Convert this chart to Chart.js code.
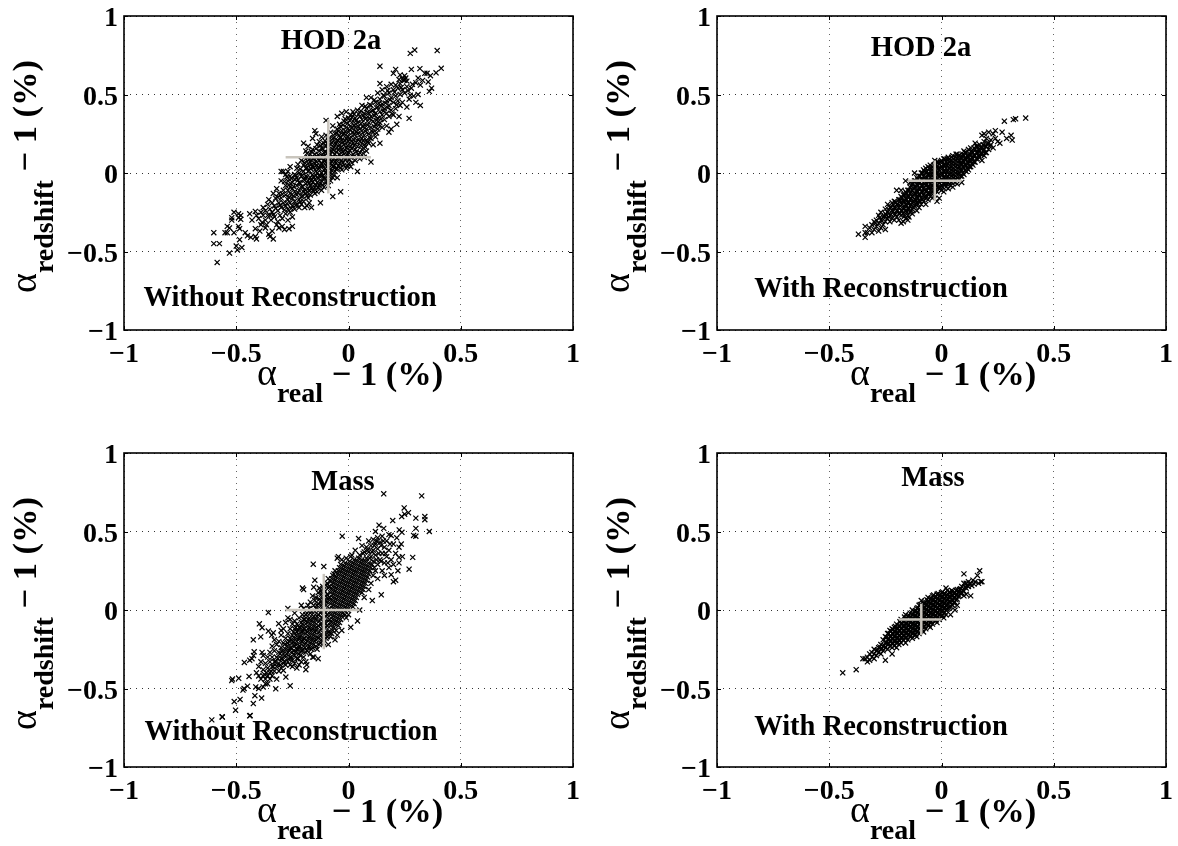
<!DOCTYPE html>
<html>
<head>
<meta charset="utf-8">
<script src="https://cdn.jsdelivr.net/npm/chart.js@4"></script>
<style>
html, body { margin: 0; padding: 0; background: #fff; overflow: hidden; }
body { width: 1178px; height: 846px; position: relative; font-family: "Liberation Serif", serif; color: #000; }
.panel { position: absolute; width: 588px; height: 420px; }
.panel canvas { position: absolute; left: 0; top: 0; }
.note { position: absolute; font-weight: bold; font-size: 28.5px; line-height: 1; white-space: nowrap; transform: translate(-50%, -50%); }
.axis-title { position: absolute; white-space: nowrap; font-weight: bold; font-size: 34.5px; line-height: 40px; height: 40px; }
.axis-title .alpha { font-weight: normal; font-size: 38px; }
.axis-title .sub { font-size: 28px; position: relative; top: 17px; }
.axis-title.x { left: 257px; top: 352px; }
.axis-title.y { left: 3px; top: 293px; transform-origin: 0 0; transform: rotate(-90deg); }
</style>
</head>
<body>
<script>
const tickValues = [-1, -0.5, 0, 0.5, 1];
const tickLabels = ['\u22121', '\u22120.5', '0', '0.5', '1'];

// [alpha_real - 1, alpha_redshift - 1] in %
const hodNoRecon = [
[-.60,-.38],[-.60,-.45],[-.575,-.45],[-.585,-.57],[-.53,-.51],[-.55,-.38],[-.54,-.38],[-.51,-.38],[-.54,-.34],[-.53,-.35],[-.52,-.30],[-.51,-.25],[-.49,-.26],[-.48,-.27],[-.52,-.285],[-.49,-.285],[-.48,-.295],[-.49,-.34],[-.485,-.355],[-.485,-.425],[-.50,-.465],[-.495,-.49],[-.475,-.475],[-.46,-.38],[-.45,-.40],[-.435,-.41],[-.415,-.405],[-.41,-.42],[-.395,-.37],[-.415,-.355],[-.43,-.30],[-.44,-.26],[-.415,-.245],[-.385,-.315],[-.39,-.33],[-.365,-.33],[-.37,-.35],[-.34,-.37],[-.355,-.39],[-.35,-.405],[-.335,-.42],[-.31,-.35],[-.265,-.355],[-.25,-.34],[-.315,-.31],[-.38,-.27],[-.35,-.27],
[-.40,-.29],[-.41,-.27],[-.39,-.25],[-.38,-.22],[-.37,-.30],[-.37,-.24],[-.36,-.20],[-.36,-.27],[-.355,-.17],[-.35,-.23],[-.345,-.30],[-.34,-.19],[-.34,-.25],[-.335,-.13],[-.33,-.21],[-.33,-.28],[-.325,-.16],[-.32,-.33],[-.32,-.10],[-.315,-.24],[-.31,-.19],[-.31,-.13],[-.305,-.27],[-.30,-.05],[-.30,-.16],[-.30,-.22],[-.295,-.29],[-.295,-.34],[-.29,-.11],[-.29,-.19],[-.285,-.36],[-.30,.01],[-.29,.01],
[-.28,-.01],[-.28,-.08],[-.28,-.14],[-.28,-.21],[-.28,-.26],[-.27,.01],[-.27,-.05],[-.27,-.11],[-.27,-.17],[-.27,-.23],[-.27,-.30],[-.26,.04],[-.26,-.02],[-.26,-.09],[-.26,-.13],[-.26,-.19],[-.26,-.25],[-.25,-.06],[-.25,-.10],[-.25,-.16],[-.25,-.21],[-.25,-.28],[-.24,-.01],[-.24,-.04],[-.24,-.12],[-.24,-.18],[-.24,-.23],[-.23,.03],[-.23,-.03],[-.23,-.08],[-.23,-.14],[-.23,-.20],[-.22,.0],[-.22,-.06],[-.22,-.11],[-.22,-.17],[-.22,-.22],[-.21,.08],[-.21,-.02],[-.21,-.09],[-.21,-.15],[-.21,-.20],[-.20,.19],[-.20,.05],[-.20,.01],[-.20,-.04],[-.20,-.12],[-.20,-.18],[-.195,-.22],
[-.19,.14],[-.19,.09],[-.19,.03],[-.19,-.02],[-.19,-.07],[-.19,-.13],[-.185,-.21],[-.18,.17],[-.18,.10],[-.18,.06],[-.18,.01],[-.18,-.05],[-.18,-.10],[-.18,-.16],[-.175,-.19],[-.17,.12],[-.17,.07],[-.17,.03],[-.17,-.03],[-.17,-.08],[-.17,-.14],[-.165,-.22],[-.16,.22],[-.16,.15],[-.16,.09],[-.16,.04],[-.16,-.01],[-.16,-.06],[-.16,-.11],[-.15,.27],[-.15,.12],[-.15,.06],[-.15,.02],[-.15,-.04],[-.15,-.09],[-.15,-.13],[-.145,.25],[-.14,.18],[-.14,.10],[-.14,.05],[-.14,.0],[-.14,-.06],[-.14,-.12],[-.13,.20],[-.13,.14],[-.13,.08],[-.13,.03],[-.13,-.02],[-.13,-.08],[-.125,-.19],[-.12,.23],[-.12,.16],[-.12,.11],[-.12,.06],[-.12,.0],[-.12,-.05],[-.12,-.11],
[-.11,.19],[-.11,.13],[-.11,.08],[-.11,.02],[-.11,-.03],[-.11,-.09],[-.10,.335],[-.10,.24],[-.10,.17],[-.10,.10],[-.10,.05],[-.10,.0],[-.10,-.06],[-.09,.21],[-.09,.15],[-.09,.09],[-.09,.03],[-.09,-.02],[-.09,-.08],[-.08,.26],[-.08,.18],[-.08,.12],[-.08,.06],[-.08,.0],[-.08,-.05],[-.07,.30],[-.07,.22],[-.07,.15],[-.07,.10],[-.07,.04],[-.07,-.03],[-.07,-.15],[-.06,.25],[-.06,.19],[-.06,.12],[-.06,.07],[-.06,.01],[-.05,.36],[-.05,.28],[-.05,.21],[-.05,.16],[-.05,.09],[-.05,.03],[-.05,-.03],[-.04,.31],[-.04,.24],[-.04,.18],[-.04,.12],[-.04,.06],[-.035,-.12],[-.03,.38],[-.03,.27],[-.03,.21],[-.03,.15],[-.03,.08],[-.03,.02],[-.02,.33],[-.02,.25],[-.02,.18],[-.02,.12],[-.02,.05],[-.01,.39],[-.01,.29],[-.01,.22],[-.01,.16],[-.01,.09],[-.01,.03],
[.0,.35],[.0,.26],[.0,.20],[.0,.13],[.0,.06],[.01,.37],[.01,.30],[.01,.23],[.01,.17],[.01,.10],[.01,.04],[.02,.39],[.02,.33],[.02,.26],[.02,.19],[.02,.12],[.03,.35],[.03,.29],[.03,.22],[.03,.15],[.03,.08],[.04,.40],[.04,.32],[.04,.25],[.04,.17],[.04,.01],[.05,.36],[.05,.28],[.05,.20],[.05,.13],[.05,.09],[.06,.43],[.06,.34],[.06,.27],[.06,.22],[.06,.15],[.07,.38],[.07,.31],[.07,.24],[.07,.18],[.07,.10],[.08,.48],[.08,.41],[.08,.35],[.08,.28],[.08,.21],[.08,.14],[.09,.38],[.09,.32],[.09,.25],[.09,.19],[.10,.48],[.10,.43],[.10,.36],[.10,.29],[.10,.22],[.10,.07],[.11,.40],[.11,.33],[.11,.26],[.11,.18],[.12,.45],[.12,.38],[.12,.31],[.12,.23],[.13,.51],[.13,.42],[.13,.35],[.13,.28],[.14,.68],[.14,.57],[.14,.47],[.14,.39],[.14,.32],[.14,.19],[.15,.53],[.15,.44],[.15,.37],[.15,.29],[.16,.49],[.16,.41],[.16,.34],[.17,.55],[.17,.46],[.17,.38],[.17,.30],[.18,.51],[.18,.43],[.18,.36],[.18,.26],[.19,.565],[.19,.48],[.19,.40],[.19,.28],
[.20,.635],[.20,.53],[.20,.45],[.20,.37],[.21,.66],[.21,.56],[.21,.49],[.21,.41],[.215,.31],[.22,.54],[.22,.46],[.225,.36],[.23,.625],[.23,.57],[.23,.50],[.23,.43],[.24,.60],[.24,.53],[.24,.45],[.25,.62],[.25,.59],[.25,.51],[.26,.585],[.26,.55],[.26,.42],[.27,.348],[.27,.47],[.275,.762],[.28,.66],[.28,.54],[.285,.565],[.29,.49],[.295,.783],[.30,.575],[.30,.45],[.31,.605],[.31,.50],[.318,.665],[.32,.56],[.32,.43],[.33,.59],[.34,.635],[.35,.635],[.355,.58],[.36,.52],[.365,.62],[.37,.54],[.39,.638],[.395,.78],[.413,.667],
[-.335,-.265],[-.325,-.225],[-.315,-.155],[-.305,-.205],[-.295,-.135],[-.285,-.235],[-.285,-.055],[-.275,-.195],[-.275,-.025],[-.265,-.155],[-.265,-.075],[-.255,-.225],[-.255,-.035],[-.245,-.145],[-.245,-.085],[-.235,-.205],[-.235,-.015],[-.225,-.125],[-.225,-.045],[-.225,.055],[-.215,-.185],[-.215,-.065],[-.215,.025],[-.205,-.145],[-.205,-.085],[-.205,-.015],[-.195,-.105],[-.195,-.045],[-.195,.065],[-.185,-.145],[-.185,-.025],[-.185,.035],[-.185,.125],[-.175,-.115],[-.175,-.065],[-.175,.015],[-.175,.085],[-.165,-.095],[-.165,-.045],[-.165,.055],[-.165,.135],[-.155,-.115],[-.155,-.025],[-.155,.035],[-.155,.095],[-.145,-.075],[-.145,-.015],[-.145,.075],[-.145,.155],[-.135,-.095],[-.135,-.035],[-.135,.025],[-.135,.115],[-.125,-.065],[-.125,-.015],[-.125,.045],[-.125,.095],[-.125,.175],[-.115,-.075],[-.115,-.015],[-.115,.045],[-.115,.105],[-.115,.155],[-.105,-.035],[-.105,.025],[-.105,.075],[-.105,.135],[-.105,.205],[-.095,-.055],[-.095,.015],[-.095,.065],[-.095,.125],[-.095,.185],[-.085,-.025],[-.085,.035],[-.085,.085],[-.085,.145],[-.085,.225],[-.075,.015],[-.075,.075],[-.075,.135],[-.075,.195],[-.065,-.015],[-.065,.045],[-.065,.095],[-.065,.165],[-.065,.225],[-.055,.025],[-.055,.065],[-.055,.135],[-.055,.185],[-.055,.255],[-.045,.045],[-.045,.095],[-.045,.145],[-.045,.205],[-.045,.265],[-.035,.035],[-.035,.105],[-.035,.165],[-.035,.225],[-.035,.295],[-.025,.065],[-.025,.135],[-.025,.195],[-.025,.245],[-.025,.305],[-.015,.085],[-.015,.145],[-.015,.205],[-.015,.265],[-.015,.345],[-.005,.045],[-.005,.115],[-.005,.175],[-.005,.235],[-.005,.315],[.005,.085],[.005,.145],[.005,.215],[.005,.275],[.005,.335],[.015,.065],[.015,.155],[.015,.205],[.015,.285],[.015,.355],[.025,.105],[.025,.175],[.025,.245],[.025,.305],[.025,.375],[.035,.135],[.035,.195],[.035,.265],[.035,.335],[.045,.115],[.045,.215],[.045,.295],[.045,.375],[.055,.175],[.055,.245],[.055,.315],[.055,.395],[.065,.125],[.065,.205],[.065,.295],[.065,.365],[.075,.165],[.075,.265],[.075,.345],[.075,.425],[.085,.195],[.085,.305],[.085,.385],[.095,.225],[.095,.345],[.095,.435],[.105,.265],[.105,.395],[.115,.295],[.115,.365],[.115,.465],[.125,.255],[.125,.335],[.125,.415],[.135,.305],[.135,.445],[.145,.345],[.145,.425],[.155,.495],[.155,.395],[.165,.445],[.175,.415],[.175,.525],[.185,.465],[.195,.375],[.205,.515],[.215,.435],[.225,.595],[.235,.545],[.245,.595],[.255,.605],[.265,.525],[.275,.495]
];
const hodRecon = [
[-.37,-.39],[-.34,-.34],[-.34,-.38],[-.34,-.41],[-.33,-.38],[-.31,-.38],[-.32,-.35],[-.31,-.33],[-.30,-.36],[-.30,-.31],[-.29,-.34],[-.29,-.30],[-.28,-.37],[-.28,-.32],[-.28,-.27],[-.27,-.35],[-.27,-.30],[-.27,-.25],[-.26,-.33],[-.26,-.28],[-.25,-.36],[-.25,-.31],[-.25,-.26],[-.25,-.23],[-.24,-.29],[-.24,-.25],[-.24,-.20],[-.23,-.31],[-.23,-.27],[-.23,-.22],[-.22,-.29],[-.22,-.24],[-.22,-.19],[-.21,-.30],[-.21,-.26],[-.21,-.22],[-.21,-.18],[-.20,-.28],[-.20,-.24],[-.20,-.20],[-.20,-.11],[-.19,-.30],[-.19,-.26],[-.19,-.22],[-.19,-.17],[-.18,-.32],[-.18,-.27],[-.18,-.24],[-.18,-.19],[-.18,-.15],[-.18,-.11],[-.17,-.26],[-.17,-.22],[-.17,-.18],[-.17,-.14],[-.17,-.31],[-.16,-.29],[-.16,-.24],[-.16,-.20],[-.16,-.16],[-.16,-.12],[-.16,-.05],[-.15,-.27],[-.15,-.23],[-.15,-.19],[-.15,-.15],[-.15,-.11],[-.15,-.30],[-.14,-.25],[-.14,-.21],[-.14,-.17],[-.14,-.13],[-.14,-.09],[-.14,-.06],[-.13,-.23],[-.13,-.19],[-.13,-.15],[-.13,-.11],[-.13,-.07],[-.13,-.26],[-.12,-.21],[-.12,-.17],[-.12,-.13],[-.12,-.09],[-.12,-.05],[-.12,.0],[-.11,-.24],[-.11,-.19],[-.11,-.15],[-.11,-.11],[-.11,-.07],[-.11,-.03],[-.10,-.22],[-.10,-.18],[-.10,-.14],[-.10,-.10],[-.10,-.06],[-.10,-.02],[-.09,-.20],[-.09,-.16],[-.09,-.12],[-.09,-.08],[-.09,-.04],[-.09,.0],[-.08,-.18],[-.08,-.14],[-.08,-.10],[-.08,-.06],[-.08,-.02],[-.08,.02],[-.07,-.20],[-.07,-.16],[-.07,-.12],[-.07,-.08],[-.07,-.04],[-.07,.0],[-.07,.03],[-.06,-.17],[-.06,-.13],[-.06,-.09],[-.06,-.05],[-.06,-.01],[-.06,.04],[-.05,-.15],[-.05,-.11],[-.05,-.07],[-.05,-.03],[-.05,.01],[-.05,.05],[-.04,-.16],[-.04,-.12],[-.04,-.08],[-.04,-.04],[-.04,.0],[-.04,.04],[-.03,-.14],[-.03,-.10],[-.03,-.06],[-.03,-.02],[-.03,.02],[-.03,.08],[-.02,-.18],[-.02,-.12],[-.02,-.08],[-.02,-.04],[-.02,.0],[-.02,.04],[-.02,.07],[-.01,-.16],[-.01,-.10],[-.01,-.06],[-.01,-.02],[-.01,.02],[-.01,.06],[.0,-.11],[.0,-.08],[.0,-.04],[.0,.0],[.0,.04],[.0,.08],[.01,-.12],[.01,-.07],[.01,-.03],[.01,.01],[.01,.05],[.01,.09],[.02,-.09],[.02,-.05],[.02,-.01],[.02,.03],[.02,.07],[.03,-.10],[.03,-.06],[.03,-.02],[.03,.02],[.03,.06],[.03,.10],[.04,-.08],[.04,-.04],[.04,.0],[.04,.04],[.04,.08],[.05,-.09],[.05,-.05],[.05,-.01],[.05,.03],[.05,.07],[.05,.11],[.06,-.06],[.06,-.02],[.06,.02],[.06,.06],[.06,.10],[.07,-.07],[.07,-.03],[.07,.01],[.07,.05],[.07,.09],[.07,.12],[.08,-.04],[.08,.0],[.08,.04],[.08,.08],[.08,.11],[.09,-.06],[.09,-.02],[.09,.02],[.09,.06],[.09,.10],[.10,-.01],[.10,.03],[.10,.07],[.10,.11],[.10,.14],[.11,.01],[.11,.05],[.11,.09],[.11,.13],[.12,.02],[.12,.06],[.12,.10],[.12,.15],[.13,.04],[.13,.08],[.13,.12],[.13,.16],[.14,.05],[.14,.09],[.14,.13],[.15,.07],[.15,.11],[.15,.15],[.15,.19],[.16,.09],[.16,.13],[.16,.17],[.17,.10],[.17,.14],[.17,.18],[.18,.08],[.18,.12],[.18,.16],[.18,.24],[.19,.11],[.19,.15],[.19,.20],[.19,.25],[.20,.13],[.20,.17],[.20,.22],[.21,.15],[.21,.19],[.21,.26],[.22,.18],[.22,.21],[.23,.16],[.23,.25],[.24,.22],[.24,.27],[.25,.20],[.26,.19],[.27,.26],[.28,.33],[.29,.22],[.31,.24],[.315,.21],[.32,.34],[.33,.345],[.375,.35],
[-.295,-.32],[-.275,-.285],[-.265,-.305],[-.255,-.275],[-.245,-.27],[-.235,-.28],[-.235,-.235],[-.225,-.265],[-.225,-.215],[-.215,-.245],[-.215,-.205],[-.205,-.265],[-.205,-.225],[-.205,-.185],[-.195,-.24],[-.195,-.2],[-.185,-.255],[-.185,-.21],[-.185,-.17],[-.175,-.24],[-.175,-.2],[-.175,-.16],[-.165,-.275],[-.165,-.225],[-.165,-.18],[-.165,-.14],[-.155,-.25],[-.155,-.21],[-.155,-.17],[-.155,-.13],[-.145,-.28],[-.145,-.23],[-.145,-.19],[-.145,-.15],[-.145,-.11],[-.135,-.24],[-.135,-.2],[-.135,-.16],[-.135,-.12],[-.135,-.08],[-.125,-.22],[-.125,-.18],[-.125,-.14],[-.125,-.1],[-.125,-.07],[-.115,-.2],[-.115,-.17],[-.115,-.13],[-.115,-.09],[-.115,-.05],[-.105,-.2],[-.105,-.16],[-.105,-.12],[-.105,-.08],[-.105,-.04],[-.095,-.18],[-.095,-.14],[-.095,-.1],[-.095,-.06],[-.095,-.02],[-.085,-.17],[-.085,-.12],[-.085,-.08],[-.085,-.04],[-.085,.0],[-.075,-.15],[-.075,-.11],[-.075,-.07],[-.075,-.03],[-.075,.01],[-.065,-.15],[-.065,-.11],[-.065,-.07],[-.065,-.03],[-.065,.01],[-.055,-.13],[-.055,-.09],[-.055,-.05],[-.055,-.01],[-.055,.03],[-.045,-.13],[-.045,-.09],[-.045,-.05],[-.045,-.01],[-.045,.03],[-.035,-.11],[-.035,-.07],[-.035,-.03],[-.035,.01],[-.035,.05],[-.025,-.11],[-.025,-.07],[-.025,-.03],[-.025,.01],[-.025,.05],[-.015,-.09],[-.015,-.05],[-.015,-.01],[-.015,.03],[-.015,.07],[-.005,-.09],[-.005,-.05],[-.005,-.01],[-.005,.03],[-.005,.07],[.005,-.09],[.005,-.05],[.005,-.01],[.005,.03],[.005,.07],[.015,-.07],[.015,-.03],[.015,.01],[.015,.05],[.015,.09],[.025,-.07],[.025,-.03],[.025,.01],[.025,.05],[.025,.09],[.035,-.05],[.035,-.01],[.035,.03],[.035,.07],[.035,.09],[.045,-.06],[.045,-.02],[.045,.02],[.045,.06],[.045,.1],[.055,-.03],[.055,.01],[.055,.05],[.055,.09],[.065,-.04],[.065,.0],[.065,.04],[.065,.08],[.065,.12],[.075,-.01],[.075,.03],[.075,.07],[.075,.11],[.085,-.02],[.085,.02],[.085,.06],[.085,.1],[.095,.0],[.095,.04],[.095,.08],[.095,.12],[.105,.02],[.105,.05],[.105,.09],[.105,.13],[.115,.03],[.115,.07],[.115,.11],[.125,.04],[.125,.08],[.125,.12],[.135,.06],[.135,.1],[.135,.14],[.145,.07],[.145,.11],[.145,.16],[.155,.09],[.155,.13],[.155,.17],[.165,.11],[.165,.15],[.175,.12],[.175,.16],[.185,.14],[.185,.18],[.195,.13],[.195,.17],[.205,.19],[.215,.17]
];
const massNoRecon = [
[-.609,-.70],[-.563,-.68],[-.562,-.682],[-.509,-.583],[-.503,-.638],[-.483,-.57],[-.44,-.674],[-.438,-.672],[-.424,-.596],[-.417,-.546],[-.387,-.561],[-.517,-.44],[-.52,-.45],[-.489,-.435],[-.465,-.50],[-.47,-.51],[-.45,-.485],[-.443,-.423],[-.413,-.49],[-.40,-.50],[-.38,-.49],[-.324,-.502],[-.26,-.483],[-.279,-.427],[-.464,-.334],[-.44,-.32],[-.43,-.31],[-.42,-.266],[-.423,-.29],[-.424,-.19],[-.397,-.088],[-.385,-.113],[-.391,-.171],[-.357,-.016],[-.357,-.134],[-.335,-.145],[-.342,-.16],[-.311,-.087],[-.385,-.27],[-.38,-.29],
[-.41,-.40],[-.40,-.36],[-.40,-.42],[-.39,-.33],[-.39,-.44],[-.38,-.38],[-.38,-.42],[-.37,-.44],[-.37,-.34],[-.37,-.47],[-.36,-.42],[-.36,-.47],[-.36,-.30],[-.36,-.37],[-.35,-.40],[-.35,-.44],[-.35,-.33],[-.35,-.27],[-.34,-.36],[-.34,-.30],[-.34,-.23],[-.34,-.42],[-.33,-.33],[-.33,-.39],[-.33,-.26],[-.33,-.19],[-.32,-.36],[-.32,-.30],[-.32,-.22],[-.32,-.44],[-.31,-.34],[-.31,-.27],[-.31,-.39],[-.31,-.20],[-.30,-.37],[-.30,-.31],[-.30,-.24],[-.30,-.16],[-.30,-.13],[-.29,-.385],[-.29,-.34],[-.29,-.28],[-.29,-.21],[-.29,-.12],[-.28,-.35],[-.28,-.30],[-.28,-.25],[-.28,-.18],[-.28,-.08],[-.27,-.33],[-.27,-.27],[-.27,-.21],[-.27,-.15],[-.27,-.05],[-.27,.01],[-.26,-.35],[-.26,-.30],[-.26,-.24],[-.26,-.18],[-.26,-.12],[-.26,-.06],[-.25,-.36],[-.25,-.32],[-.25,-.27],[-.25,-.21],[-.25,-.16],[-.25,-.09],[-.24,-.34],[-.24,-.29],[-.24,-.23],[-.24,-.18],[-.24,-.12],[-.24,-.07],[-.24,-.02],[-.23,-.37],[-.23,-.31],[-.23,-.25],[-.23,-.20],[-.23,-.14],[-.23,-.09],[-.22,-.35],[-.22,-.28],[-.22,-.23],[-.22,-.17],[-.22,-.11],[-.22,-.05],[-.21,-.33],[-.21,-.26],[-.21,-.20],[-.21,-.14],[-.21,-.08],[-.21,.03],[-.205,.14],[-.20,.13],[-.20,-.30],[-.20,-.23],[-.20,-.18],[-.20,-.12],[-.20,-.06],[-.20,.01],[-.19,-.38],[-.19,-.33],[-.19,-.27],[-.19,-.21],[-.19,-.15],[-.19,-.09],[-.19,-.03],[-.186,-.349],[-.18,-.24],[-.18,-.18],[-.18,-.12],[-.18,-.06],[-.18,.03],[-.17,-.28],[-.17,-.21],[-.17,-.15],[-.17,-.09],[-.17,-.02],[-.17,.05],[-.16,-.30],[-.16,-.24],[-.16,-.18],[-.16,-.12],[-.16,-.05],[-.16,.09],[-.157,.292],[-.155,-.30],[-.155,.145],[-.15,.19],[-.15,-.20],[-.15,-.14],[-.15,-.08],[-.15,-.01],[-.15,.06],[-.14,-.25],[-.14,-.17],[-.14,-.11],[-.14,-.04],[-.14,.03],[-.135,-.31],[-.13,-.22],[-.13,-.14],[-.13,-.07],[-.13,.0],[-.13,.07],[-.13,.14],[-.12,-.19],[-.12,-.12],[-.12,-.05],[-.12,.03],[-.12,.10],[-.11,.277],[-.11,-.21],[-.11,-.15],[-.11,-.08],[-.11,-.01],[-.11,.06],[-.11,.13],[-.10,-.18],[-.10,-.11],[-.10,-.04],[-.10,.03],[-.10,.09],[-.10,.16],[-.09,-.22],[-.09,-.14],[-.09,-.07],[-.09,.0],[-.09,.07],[-.09,.14],[-.09,.20],[-.08,-.17],[-.08,-.10],[-.08,-.03],[-.08,.04],[-.08,.11],[-.08,.18],[-.07,-.13],[-.07,-.06],[-.07,.01],[-.07,.08],[-.07,.15],[-.07,.22],[-.06,-.19],[-.06,-.09],[-.06,-.02],[-.06,.05],[-.06,.12],[-.06,.19],[-.06,.25],[-.05,-.16],[-.05,-.05],[-.05,.02],[-.05,.09],[-.05,.16],[-.05,.23],[-.05,.33],[-.045,.34],[-.04,-.08],[-.04,-.01],[-.04,.06],[-.04,.13],[-.04,.20],[-.04,.27],[-.03,-.13],[-.03,-.04],[-.03,.03],[-.03,.10],[-.03,.17],[-.03,.24],[-.028,.47],[-.03,.32],[-.02,.0],[-.02,.07],[-.02,.14],[-.02,.21],[-.02,.28],[-.01,-.05],[-.01,.04],[-.01,.11],[-.01,.18],[-.01,.25],[-.01,.33],
[.0,-.03],[.0,.01],[.0,.08],[.0,.15],[.0,.22],[.0,.29],[.01,-.11],[.01,.05],[.01,.12],[.01,.19],[.01,.26],[.01,.34],[.02,.02],[.02,.09],[.02,.16],[.02,.23],[.02,.30],[.03,.06],[.03,.13],[.03,.20],[.03,.27],[.03,.38],[.04,-.07],[.04,.10],[.04,.17],[.04,.24],[.04,.31],[.045,.455],[.05,.0],[.05,.14],[.05,.21],[.05,.28],[.05,.35],[.06,.11],[.06,.18],[.06,.25],[.06,.32],[.06,.41],[.07,.08],[.07,.15],[.07,.22],[.07,.29],[.07,.37],[.08,.19],[.08,.26],[.08,.33],[.08,.40],[.09,.13],[.09,.23],[.09,.30],[.09,.37],[.09,.44],[.10,.17],[.10,.27],[.10,.34],[.10,.41],[.106,.06],[.11,.22],[.11,.31],[.11,.38],[.11,.45],[.12,.50],[.12,.25],[.12,.35],[.12,.42],[.13,.20],[.13,.29],[.13,.39],[.13,.46],[.136,.54],[.14,.32],[.14,.43],[.146,.097],[.15,.25],[.15,.36],[.15,.47],[.157,.52],[.157,.74],[.16,.22],[.16,.30],[.16,.40],[.17,.34],[.17,.44],[.18,.27],[.18,.38],[.18,.48],[.19,.225],[.19,.32],[.19,.475],[.197,.57],[.20,.18],[.20,.29],[.20,.42],[.21,.19],[.21,.36],[.215,.46],[.22,.25],[.225,.30],[.225,.335],[.226,.51],[.225,.40],[.235,.42],[.237,.595],[.24,.34],[.238,.495],[.248,.65],[.25,.61],[.267,.62],[.27,.26],[.286,.335],[.29,.475],[.30,.585],[.30,.52],[.30,.47],[.326,.727],[.34,.595],[.34,.575],[.36,.50],
[-.375,-.41],[-.365,-.4],[-.345,-.39],[-.335,-.36],[-.325,-.33],[-.315,-.31],[-.305,-.35],[-.305,-.28],[-.295,-.26],[-.295,-.31],[-.285,-.33],[-.285,-.22],[-.275,-.28],[-.275,-.23],[-.265,-.31],[-.265,-.26],[-.265,-.2],[-.255,-.3],[-.255,-.24],[-.255,-.19],[-.245,-.26],[-.245,-.2],[-.245,-.14],[-.235,-.27],[-.235,-.22],[-.235,-.16],[-.235,-.11],[-.225,-.31],[-.225,-.25],[-.225,-.19],[-.225,-.13],[-.215,-.29],[-.215,-.23],[-.215,-.17],[-.215,-.11],[-.205,-.26],[-.205,-.2],[-.205,-.14],[-.205,-.09],[-.205,-.03],[-.195,-.24],[-.195,-.18],[-.195,-.12],[-.195,-.06],[-.185,-.26],[-.185,-.2],[-.185,-.14],[-.185,-.08],[-.185,-.02],[-.175,-.23],[-.175,-.17],[-.175,-.11],[-.175,-.05],[-.175,.01],[-.165,-.25],[-.165,-.19],[-.165,-.13],[-.165,-.07],[-.165,-.01],[-.155,-.22],[-.155,-.16],[-.155,-.1],[-.155,-.04],[-.155,.03],[-.145,-.23],[-.145,-.19],[-.145,-.13],[-.145,-.06],[-.145,.01],[-.145,.08],[-.135,-.18],[-.135,-.1],[-.135,-.03],[-.135,.04],[-.135,.11],[-.125,-.21],[-.125,-.16],[-.125,-.09],[-.125,-.02],[-.125,.05],[-.125,.12],[-.115,-.18],[-.115,-.11],[-.115,-.05],[-.115,.01],[-.115,.08],[-.115,.15],[-.105,-.15],[-.105,-.08],[-.105,-.01],[-.105,.06],[-.105,.12],[-.095,-.17],[-.095,-.1],[-.095,-.03],[-.095,.05],[-.095,.1],[-.095,.17],[-.085,-.14],[-.085,-.06],[-.085,.01],[-.085,.08],[-.085,.15],[-.075,-.15],[-.075,-.08],[-.075,-.01],[-.075,.06],[-.075,.13],[-.075,.2],[-.065,-.11],[-.065,-.04],[-.065,.03],[-.065,.1],[-.065,.17],[-.065,.23],[-.055,-.13],[-.055,-.07],[-.055,.0],[-.055,.07],[-.055,.14],[-.055,.21],[-.045,-.1],[-.045,-.03],[-.045,.04],[-.045,.11],[-.045,.18],[-.045,.25],[-.035,-.06],[-.035,.01],[-.035,.08],[-.035,.15],[-.035,.22],[-.035,.29],[-.025,-.02],[-.025,.05],[-.025,.12],[-.025,.19],[-.025,.26],[-.015,-.03],[-.015,.02],[-.015,.09],[-.015,.16],[-.015,.23],[-.015,.3],[-.005,.0],[-.005,.06],[-.005,.13],[-.005,.2],[-.005,.27],[.005,.03],[.005,.1],[.005,.17],[.005,.24],[.005,.31],[.015,.07],[.015,.14],[.015,.21],[.015,.28],[.015,.35],[.025,.04],[.025,.11],[.025,.18],[.025,.25],[.025,.32],[.035,.08],[.035,.15],[.035,.22],[.035,.29],[.045,.12],[.045,.19],[.045,.26],[.045,.33],[.055,.16],[.055,.23],[.055,.3],[.065,.13],[.065,.2],[.065,.27],[.065,.36],[.075,.17],[.075,.24],[.075,.31],[.085,.21],[.085,.28],[.085,.38],[.095,.25],[.095,.33],[.105,.29],[.105,.37],[.115,.27],[.115,.41],[.125,.32],[.125,.44],[.135,.36],[.145,.31],[.145,.41],[.155,.44],[.165,.36],[.175,.3],[.185,.42]
];
const massRecon = [
[-.44,-.40],[-.38,-.38],[-.35,-.31],[-.34,-.31],[-.33,-.33],[-.33,-.30],[-.32,-.32],[-.32,-.28],[-.31,-.30],[-.31,-.27],[-.30,-.31],[-.30,-.28],[-.30,-.25],[-.29,-.29],[-.29,-.26],[-.28,-.27],[-.28,-.24],[-.27,-.28],[-.27,-.25],[-.27,-.22],[-.26,-.26],[-.26,-.23],[-.26,-.19],[-.25,-.32],[-.25,-.24],[-.25,-.21],[-.25,-.17],[-.24,-.25],[-.24,-.22],[-.24,-.19],[-.24,-.15],[-.23,-.23],[-.23,-.20],[-.23,-.17],[-.23,-.13],[-.22,-.28],[-.22,-.24],[-.22,-.21],[-.22,-.18],[-.22,-.15],[-.22,-.12],[-.21,-.23],[-.21,-.20],[-.21,-.17],[-.21,-.14],[-.21,-.11],[-.20,-.24],[-.20,-.21],[-.20,-.18],[-.20,-.15],[-.20,-.12],[-.20,-.09],[-.19,-.22],[-.19,-.19],[-.19,-.16],[-.19,-.13],[-.19,-.10],[-.18,-.21],[-.18,-.18],[-.18,-.15],[-.18,-.12],[-.18,-.09],[-.18,-.06],[-.17,-.19],[-.17,-.16],[-.17,-.13],[-.17,-.10],[-.17,-.07],[-.16,-.21],[-.16,-.18],[-.16,-.15],[-.16,-.12],[-.16,-.09],[-.16,-.06],[-.16,-.03],[-.15,-.19],[-.15,-.16],[-.15,-.13],[-.15,-.10],[-.15,-.07],[-.15,-.04],[-.14,-.17],[-.14,-.14],[-.14,-.11],[-.14,-.08],[-.14,-.05],[-.14,-.02],[-.13,-.18],[-.13,-.15],[-.13,-.12],[-.13,-.09],[-.13,-.06],[-.13,-.03],[-.13,.0],[-.12,-.16],[-.12,-.13],[-.12,-.10],[-.12,-.07],[-.12,-.04],[-.12,-.01],[-.11,-.17],[-.11,-.14],[-.11,-.11],[-.11,-.08],[-.11,-.05],[-.11,-.02],[-.11,.01],[-.10,-.15],[-.10,-.12],[-.10,-.09],[-.10,-.06],[-.10,-.03],[-.10,.0],[-.10,.03],[-.09,-.13],[-.09,-.10],[-.09,-.07],[-.09,-.04],[-.09,-.01],[-.09,.02],[-.09,.06],[-.08,-.14],[-.08,-.11],[-.08,-.08],[-.08,-.05],[-.08,-.02],[-.08,.01],[-.08,.04],[-.07,-.12],[-.07,-.09],[-.07,-.06],[-.07,-.03],[-.07,.0],[-.07,.03],[-.07,.05],[-.06,-.10],[-.06,-.07],[-.06,-.04],[-.06,-.01],[-.06,.02],[-.06,.05],[-.06,.08],[-.05,-.11],[-.05,-.08],[-.05,-.05],[-.05,-.02],[-.05,.01],[-.05,.04],[-.05,.07],[-.04,-.09],[-.04,-.06],[-.04,-.03],[-.04,.0],[-.04,.03],[-.04,.06],[-.04,.09],[-.03,-.07],[-.03,-.04],[-.03,-.01],[-.03,.02],[-.03,.05],[-.03,.08],[-.02,-.08],[-.02,-.05],[-.02,-.02],[-.02,.01],[-.02,.04],[-.02,.07],[-.02,.10],[-.01,-.06],[-.01,-.03],[-.01,.0],[-.01,.03],[-.01,.06],[-.01,.09],[.0,-.04],[.0,-.01],[.0,.02],[.0,.05],[.0,.08],[.0,.11],[.01,-.05],[.01,-.02],[.01,.01],[.01,.04],[.01,.07],[.01,.10],[.02,-.03],[.02,.0],[.02,.03],[.02,.06],[.02,.09],[.02,.14],[.03,.01],[.03,.04],[.03,.07],[.03,.10],[.04,-.03],[.04,.02],[.04,.05],[.04,.08],[.04,.11],[.05,.03],[.05,.06],[.05,.09],[.05,.12],[.06,.0],[.06,.05],[.06,.08],[.06,.11],[.07,.03],[.07,.07],[.07,.10],[.07,.13],[.08,.09],[.08,.13],[.09,.11],[.09,.15],[.10,.23],[.10,.12],[.10,.17],[.10,.09],[.11,.14],[.11,.10],[.11,.17],[.12,.15],[.12,.18],[.13,.09],[.13,.17],[.14,.19],[.15,.18],[.16,.22],[.165,.17],[.17,.25],[.175,.18],[.18,.18],
[-.285,-.255],[-.275,-.235],[-.265,-.245],[-.255,-.225],[-.245,-.205],[-.245,-.175],[-.235,-.215],[-.235,-.185],[-.235,-.15],[-.225,-.195],[-.225,-.165],[-.225,-.135],[-.215,-.215],[-.215,-.185],[-.215,-.155],[-.215,-.125],[-.205,-.195],[-.205,-.165],[-.205,-.135],[-.205,-.105],[-.195,-.205],[-.195,-.175],[-.195,-.145],[-.195,-.115],[-.185,-.195],[-.185,-.165],[-.185,-.135],[-.185,-.105],[-.185,-.075],[-.175,-.175],[-.175,-.145],[-.175,-.115],[-.175,-.085],[-.165,-.165],[-.165,-.135],[-.165,-.105],[-.165,-.075],[-.165,-.045],[-.155,-.175],[-.155,-.145],[-.155,-.115],[-.155,-.085],[-.155,-.055],[-.145,-.155],[-.145,-.125],[-.145,-.095],[-.145,-.065],[-.145,-.035],[-.135,-.165],[-.135,-.135],[-.135,-.105],[-.135,-.075],[-.135,-.045],[-.125,-.145],[-.125,-.115],[-.125,-.085],[-.125,-.055],[-.125,-.025],[-.115,-.155],[-.115,-.125],[-.115,-.095],[-.115,-.065],[-.115,-.035],[-.115,-.005],[-.105,-.135],[-.105,-.105],[-.105,-.075],[-.105,-.045],[-.105,-.015],[-.105,.015],[-.095,-.115],[-.095,-.085],[-.095,-.055],[-.095,-.025],[-.095,.005],[-.095,.035],[-.085,-.125],[-.085,-.095],[-.085,-.065],[-.085,-.035],[-.085,-.005],[-.085,.025],[-.075,-.105],[-.075,-.075],[-.075,-.045],[-.075,-.015],[-.075,.015],[-.075,.045],[-.065,-.085],[-.065,-.055],[-.065,-.025],[-.065,.005],[-.065,.035],[-.065,.065],[-.055,-.095],[-.055,-.065],[-.055,-.035],[-.055,-.005],[-.055,.025],[-.055,.055],[-.045,-.075],[-.045,-.045],[-.045,-.015],[-.045,.015],[-.045,.045],[-.045,.075],[-.035,-.055],[-.035,-.025],[-.035,.005],[-.035,.035],[-.035,.065],[-.035,.095],[-.025,-.065],[-.025,-.035],[-.025,-.005],[-.025,.025],[-.025,.055],[-.025,.085],[-.015,-.045],[-.015,-.015],[-.015,.015],[-.015,.045],[-.015,.075],[-.015,.105],[-.005,-.025],[-.005,.005],[-.005,.035],[-.005,.065],[-.005,.095],[.005,-.035],[.005,-.005],[.005,.025],[.005,.055],[.005,.085],[.005,.115],[.015,-.015],[.015,.015],[.015,.045],[.015,.075],[.015,.105],[.025,.005],[.025,.035],[.025,.065],[.025,.095],[.025,.125],[.035,.015],[.035,.055],[.035,.085],[.035,.115],[.045,.035],[.045,.065],[.045,.095],[.045,.125],[.055,.045],[.055,.075],[.055,.105],[.065,.065],[.065,.095],[.065,.125],[.075,.085],[.075,.115],[.085,.105],[.085,.135],[.095,.125],[.105,.145],[.115,.155],[.125,.165],[.135,.155],[.145,.165]
];

// horizontal and vertical spread bars, [xLow, xHigh, yMean, xMean, yLow, yHigh]
const hodNoReconBar = [-0.28, 0.10, 0.10, -0.09, -0.13, 0.34];
const hodReconBar = [-0.15, 0.09, -0.05, -0.03, -0.18, 0.08];
const massNoReconBar = [-0.28, 0.05, 0.0, -0.11, -0.25, 0.23];
const massReconBar = [-0.19, 0.0, -0.06, -0.09, -0.16, 0.04];

const panels = [
    { left: 0, top: 0, points: hodNoRecon, bar: hodNoReconBar,
      notes: [['HOD 2a', 331, 40], ['Without Reconstruction', 290, 297]] },
    { left: 593, top: 0, points: hodRecon, bar: hodReconBar,
      notes: [['HOD 2a', 328, 47], ['With Reconstruction', 288, 288]] },
    { left: 0, top: 437, points: massNoRecon, bar: massNoReconBar,
      notes: [['Mass', 343, 44], ['Without Reconstruction', 291, 294]] },
    { left: 593, top: 437, points: massRecon, bar: massReconBar,
      notes: [['Mass', 340, 40], ['With Reconstruction', 288, 289]] }
];

// box and short inward ticks, matlab style
const boxPlugin = {
    id: 'box',
    afterDraw(chart) {
        const { ctx, chartArea: a, scales } = chart;
        ctx.save();
        ctx.strokeStyle = '#000';
        ctx.lineWidth = 1;
        tickValues.forEach(v => {
            const x = Math.round(scales.x.getPixelForValue(v)) + 0.5;
            const y = Math.round(scales.y.getPixelForValue(v)) + 0.5;
            ctx.beginPath();
            ctx.moveTo(x, a.top); ctx.lineTo(x, a.top + 4);
            ctx.moveTo(x, a.bottom); ctx.lineTo(x, a.bottom - 4);
            ctx.moveTo(a.left, y); ctx.lineTo(a.left + 4, y);
            ctx.moveTo(a.right, y); ctx.lineTo(a.right - 4, y);
            ctx.stroke();
        });
        ctx.lineWidth = 1.6;
        ctx.strokeRect(a.left, a.top, a.right - a.left, a.bottom - a.top);
        ctx.restore();
    }
};

function addText(panel, cls, html, x, y) {
    const el = document.createElement('div');
    el.className = cls;
    el.innerHTML = html;
    if (x !== undefined) { el.style.left = x + 'px'; el.style.top = y + 'px'; }
    panel.appendChild(el);
}

function drawPanel(p) {
    const div = document.createElement('div');
    div.className = 'panel';
    div.style.left = p.left + 'px';
    div.style.top = p.top + 'px';
    const canvas = document.createElement('canvas');
    canvas.width = 588;
    canvas.height = 420;
    canvas.style.width = '588px';
    canvas.style.height = '420px';
    div.appendChild(canvas);
    document.body.appendChild(div);

    const [xLow, xHigh, yMean, xMean, yLow, yHigh] = p.bar;
    const font = { family: '"Liberation Serif", serif', size: 28, weight: 'bold' };

    new Chart(canvas.getContext('2d'), {
        type: 'scatter',
        data: {
            datasets: [
                { type: 'line', data: [{ x: xLow, y: yMean }, { x: xHigh, y: yMean }], borderColor: '#c9c5bd', borderWidth: 2.5, pointRadius: 0, order: 0 },
                { type: 'line', data: [{ x: xMean, y: yLow }, { x: xMean, y: yHigh }], borderColor: '#c9c5bd', borderWidth: 2.5, pointRadius: 0, order: 0 },
                { data: p.points.map(d => ({ x: d[0], y: d[1] })), pointStyle: 'crossRot', pointRadius: 3.6, borderColor: '#000', borderWidth: 1.2, order: 1 }
            ]
        },
        options: {
            responsive: false,
            animation: false,
            layout: { padding: { top: 16, right: 2, left: 0, bottom: 0 } },
            plugins: { legend: { display: false }, tooltip: { enabled: false } },
            scales: {
                x: {
                    type: 'linear', min: -1, max: 1,
                    afterBuildTicks: s => { s.ticks = tickValues.map(value => ({ value })); },
                    afterFit: s => { s.height = 420 - 330; },
                    grid: { color: '#666', drawTicks: false },
                    border: { display: false, dash: [1, 5] },
                    ticks: { autoSkip: false, maxRotation: 0, padding: 8, color: '#000', font,
                        callback: v => tickLabels[tickValues.indexOf(v)] }
                },
                y: {
                    type: 'linear', min: -1, max: 1,
                    afterBuildTicks: s => { s.ticks = tickValues.map(value => ({ value })); },
                    afterFit: s => { s.width = 124; },
                    grid: { color: '#333', drawTicks: false },
                    border: { display: false, dash: [1, 5] },
                    // blank first line + small lineHeight pushes the label 3px below its gridline
                    ticks: { autoSkip: false, padding: 6, color: '#000', font: { ...font, lineHeight: '6px' },
                        callback: v => ['', tickLabels[tickValues.indexOf(v)]] }
                }
            }
        },
        plugins: [boxPlugin]
    });

    p.notes.forEach(n => addText(div, 'note', n[0], n[1], n[2]));
    addText(div, 'axis-title x', '<span class="alpha">\u03b1</span><span class="sub">real</span> \u2212 1 (%)');
    addText(div, 'axis-title y', '<span class="alpha">\u03b1</span><span class="sub">redshift</span> \u2212 1 (%)');
}

panels.forEach(drawPanel);
</script>
</body>
</html>
